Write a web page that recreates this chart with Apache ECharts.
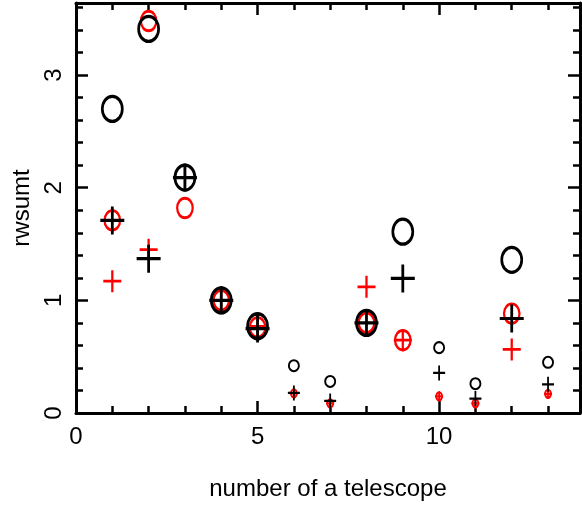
<!DOCTYPE html>
<html>
<head>
<meta charset="utf-8">
<title>rwsumt</title>
<script src="https://cdn.jsdelivr.net/npm/echarts@6/dist/echarts.min.js"></script>
<style>
  html, body { margin: 0; padding: 0; background: #fff; }
  #main { width: 582px; height: 507px; }
</style>
</head>
<body>
<div id="main"></div>
<script>
// telescope numbers and rwsumt values
var telescopes = [1, 2, 3, 4, 5, 6, 7, 8, 9, 10, 11, 12, 13];
var blackCircle = [2.70, 3.41, 2.09, 1.00, 0.77, 0.42, 0.28, 0.80, 1.61, 0.58, 0.26, 1.36, 0.45];
var redCircle   = [1.71, 3.48, 1.82, 1.00, 0.76, 0.175, 0.086, 0.80, 0.646, 0.148, 0.086, 0.883, 0.17];
var blackPlus   = [1.71, 1.37, 2.09, 1.00, 0.75, 0.178, 0.107, 0.80, 1.195, 0.356, 0.128, 0.839, 0.255];
var redPlus     = [1.17, 1.45, 2.09, 1.00, 0.77, 0.175, 0.086, 1.12, 0.646, 0.148, 0.086, 0.564, 0.17];
// which telescopes are drawn with the big markers
var bigMarker = [1, 1, 1, 1, 1, 0, 0, 1, 1, 0, 0, 1, 0];

var ELLIPSE = 'path://M0,-1A1,1,0,1,1,0,1A1,1,0,1,1,0,-1Z';
var PLUS = 'path://M-1,0L1,0M0,-1L0,1';
var FONT = 'Liberation Sans';

function makeSeries(name, values, symbol, color, bigSize, smallSize, bigWidth, smallWidth) {
    var data = [];
    for (var i = 0; i < telescopes.length; i++) {
        var big = bigMarker[i] == 1;
        data.push({
            value: [telescopes[i], values[i]],
            symbolSize: big ? bigSize : smallSize,
            itemStyle: { borderWidth: big ? bigWidth : smallWidth }
        });
    }
    return {
        name: name,
        type: 'scatter',
        symbol: symbol,
        data: data,
        itemStyle: { color: 'none', borderColor: color, opacity: 1 },
        emphasis: { disabled: true },
        silent: true
    };
}

var axisCommon = {
    axisLine: { show: true, onZero: false, lineStyle: { color: '#000', width: 3 } },
    axisTick: { show: true, inside: true, length: 12, lineStyle: { color: '#000', width: 2.5 } },
    minorTick: { show: true, splitNumber: 5, length: 7, lineStyle: { color: '#000', width: 2.5 } },
    splitLine: { show: false },
    minorSplitLine: { show: false }
};

var myChart = echarts.init(document.getElementById('main'));
var option = {
    animation: false,
    grid: { left: 76, right: 2, top: 3, bottom: 94 },
    xAxis: [
        Object.assign({
            type: 'value', position: 'bottom', min: 0, max: 13.88, interval: 5,
            name: 'number of a telescope', nameLocation: 'middle', nameGap: 64,
            nameTextStyle: { color: '#000', fontFamily: FONT, fontSize: 24 },
            axisLabel: { color: '#000', fontFamily: FONT, fontSize: 24, margin: 12,
                         showMaxLabel: false }
        }, axisCommon),
        Object.assign({
            type: 'value', position: 'top', min: 0, max: 13.88, interval: 5,
            axisLabel: { show: false }
        }, axisCommon)
    ],
    yAxis: [
        Object.assign({
            type: 'value', position: 'left', min: 0, max: 3.64, interval: 1,
            name: 'rwsumt', nameLocation: 'middle', nameGap: 40, nameRotate: 90,
            nameTextStyle: { color: '#000', fontFamily: FONT, fontSize: 24 },
            axisLabel: { color: '#000', fontFamily: FONT, fontSize: 24, margin: 10,
                         rotate: 90, showMaxLabel: false }
        }, axisCommon),
        Object.assign({
            type: 'value', position: 'right', min: 0, max: 3.64, interval: 1,
            axisLabel: { show: false }
        }, axisCommon)
    ],
    series: [
        makeSeries('red circle', redCircle, ELLIPSE, '#ff0000', [15.5, 19.5], [6, 8], 2.5, 2),
        makeSeries('red plus', redPlus, PLUS, '#ff0000', [18, 22], [8, 10], 2.5, 2),
        makeSeries('black circle', blackCircle, ELLIPSE, '#000000', [20, 25], [10, 11], 3, 2),
        makeSeries('black plus', blackPlus, PLUS, '#000000', [24, 28], [12, 15], 3, 2)
    ]
};
myChart.setOption(option);
</script>
</body>
</html>
